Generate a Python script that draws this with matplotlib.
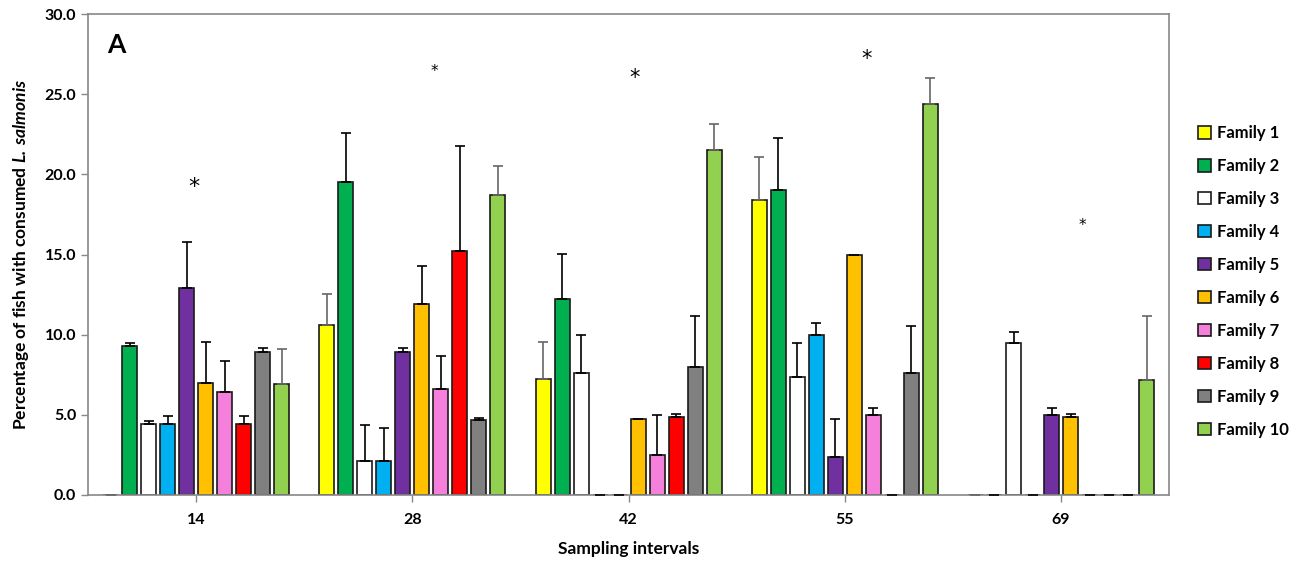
import numpy as np
import matplotlib
matplotlib.use('Agg')
import matplotlib.pyplot as plt

plt.rcParams['font.family'] = ['Lato', 'DejaVu Sans']
plt.rcParams['mathtext.fontset'] = 'custom'
plt.rcParams['mathtext.bfit'] = 'Lato:italic:bold'

intervals = ['14', '28', '42', '55', '69']
families = ['Family %d' % i for i in range(1, 11)]
colors = ['#FFFF00', '#00B050', '#FFFFFF', '#00B0F0', '#7030A0',
          '#FFC000', '#F580DC', '#FF0000', '#808080', '#92D050']
err_colors = ['#666666', 'black', 'black', 'black', 'black',
              'black', 'black', 'black', 'black', '#666666']

# mean values per family, one entry per sampling interval
values = [
    [0.0, 10.6, 7.25, 18.4, 0.0],   # Family 1
    [9.3, 19.55, 12.25, 19.0, 0.0],  # Family 2
    [4.45, 2.15, 7.6, 7.35, 9.5],    # Family 3
    [4.45, 2.1, 0.0, 10.0, 0.0],     # Family 4
    [12.9, 8.9, 0.0, 2.35, 5.0],     # Family 5
    [7.0, 11.9, 4.75, 15.0, 4.85],   # Family 6
    [6.45, 6.6, 2.5, 5.0, 0.0],      # Family 7
    [4.45, 15.2, 4.85, 0.0, 0.0],    # Family 8
    [8.9, 4.65, 8.0, 7.6, 0.0],      # Family 9
    [6.9, 18.7, 21.5, 24.4, 7.17],   # Family 10
]
# upper error (nan = none drawn)
errors = [
    [np.nan, 1.95, 2.3, 2.7, np.nan],
    [0.2, 3.05, 2.8, 3.25, np.nan],
    [0.15, 2.2, 2.4, 2.15, 0.67],
    [0.45, 2.1, np.nan, 0.75, np.nan],
    [2.9, 0.25, np.nan, 2.4, 0.4],
    [2.55, 2.4, np.nan, np.nan, 0.2],
    [1.9, 2.1, 2.5, 0.4, np.nan],
    [0.45, 6.6, 0.2, np.nan, np.nan],
    [0.25, 0.15, 3.15, 2.95, np.nan],
    [2.2, 1.85, 1.65, 1.6, 3.98],
]
# significance marks: (interval index, height, size)
stars = [(0, 19.2, 16), (1, 26.45, 11), (2, 26.0, 15), (3, 27.2, 15), (4, 16.8, 11)]
star_dx = [-0.01, 0.1, 0.03, 0.1, 0.1]

fig = plt.figure(figsize=(13.12, 5.65), dpi=100)
ax = fig.add_axes([0.0671, 0.1239, 0.8240, 0.8511])

x = np.arange(len(intervals))
slot = 0.0879
width = 0.0694
for i in range(10):
    pos = x + (i - 4.5) * slot
    ax.bar(pos, values[i], width, color=colors[i], edgecolor='#1a1a1a',
           linewidth=1.2, label=families[i], zorder=2)
    e = np.array(errors[i])
    v = np.array(values[i])
    ax.errorbar(pos, v, yerr=[np.zeros_like(e), e], fmt='none',
                ecolor=err_colors[i], elinewidth=1.2, capsize=3.5,
                capthick=1.2, zorder=3)

for (k, h, s), dx in zip(stars, star_dx):
    ax.text(x[k] + dx, h, '*', ha='center', va='center', fontsize=s,
            family='DejaVu Sans')

ax.text(0.018, 0.935, 'A', transform=ax.transAxes, fontsize=19,
        fontweight='bold', ha='left', va='center')

ax.set_xlim(-0.5, 4.5)
ax.set_ylim(0, 30)
ax.set_yticks(np.arange(0, 30.1, 5))
ax.set_yticklabels(['%.1f' % t for t in np.arange(0, 30.1, 5)])
ax.set_xticks(x)
ax.set_xticklabels(intervals)
for lab in ax.get_xticklabels() + ax.get_yticklabels():
    lab.set_fontweight('bold')
    lab.set_fontsize(11.5)
ax.tick_params(axis='both', direction='out', length=5, color='#888888', width=1)
ax.tick_params(axis='x', pad=8)
for sp in ax.spines.values():
    sp.set_color('#888888')
    sp.set_linewidth(1.2)

ax.set_xlabel('Sampling intervals', fontsize=12.5, fontweight='bold', labelpad=10)
ax.set_ylabel(r'Percentage of fish with consumed $\mathbfit{L.\,salmonis}$',
              fontsize=12.5, fontweight='bold', labelpad=10)

leg = ax.legend(loc='upper left', bbox_to_anchor=(1.013, 0.80), frameon=False,
                prop={'weight': 'bold', 'size': 12}, handlelength=0.75,
                handleheight=0.75, handletextpad=0.4, labelspacing=1.015)

fig.savefig('out.png', dpi=100)
